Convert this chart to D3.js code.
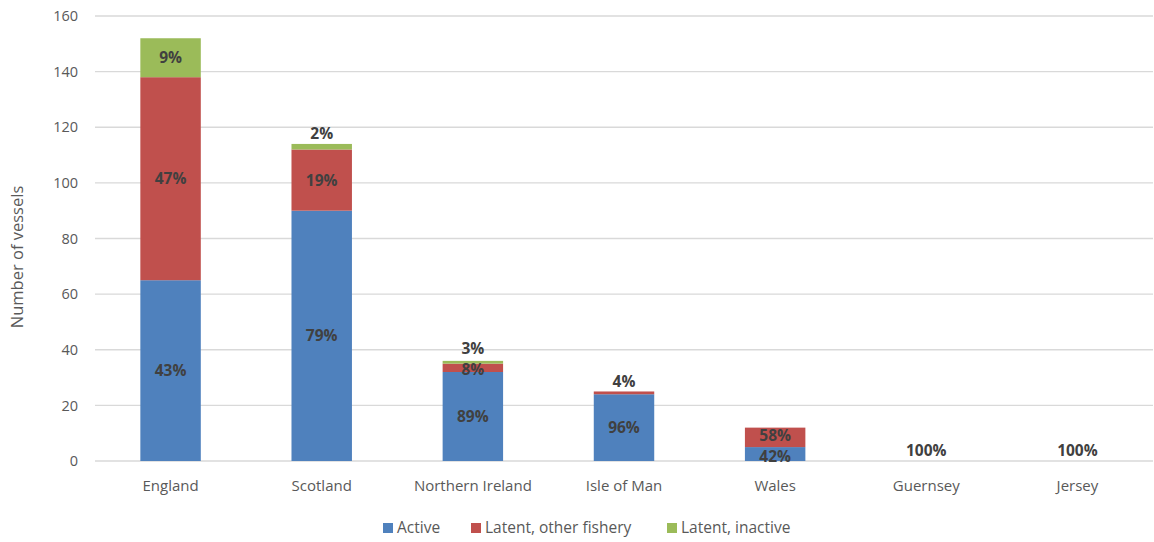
<!DOCTYPE html>
<html>
<head>
<meta charset="utf-8">
<script src="https://cdn.jsdelivr.net/npm/d3@7"></script>
<style>
  html, body { margin: 0; padding: 0; background: #fff; }
  svg { display: block; font-family: "Open Sans", "Liberation Sans", Arial, sans-serif; }
</style>
</head>
<body>
<svg id="chart" width="1154" height="542"></svg>
<script>
// ---- data ----
const categories = ["England", "Scotland", "Northern Ireland", "Isle of Man", "Wales", "Guernsey", "Jersey"];
const seriesNames = ["Active", "Latent, other fishery", "Latent, inactive"];
const activeValues   = [65, 90, 32, 24, 5, 0, 0];
const otherValues    = [73, 22, 3, 1, 7, 0, 0];
const inactiveValues = [14, 2, 1, 0, 0, 0, 0];
const activeLabels   = ["43%", "79%", "89%", "96%", "42%", null, null];
const otherLabels    = ["47%", "19%", "8%", "4%", "58%", "100%", "100%"];
const inactiveLabels = ["9%", "2%", "3%", null, null, null, null];
const yTicks = [0, 20, 40, 60, 80, 100, 120, 140, 160];
const colors = ["#4F81BD", "#C0504D", "#9BBB59"];

// ---- layout ----
const FONT = "'Open Sans', 'Liberation Sans', Arial, sans-serif";
const svg = d3.select("#chart");
const margin = { left: 95, right: 1, top: 16, bottom: 81 };
const W = 1154, H = 542;
const x = d3.scaleBand().domain(categories).range([margin.left, W - margin.right]).padding(0);
const y = d3.scaleLinear().domain([0, 160]).range([H - margin.bottom, margin.top]);
const barW = x.bandwidth() * 0.4;

// gridlines
svg.append("g").selectAll("line").data(yTicks).join("line")
  .attr("x1", margin.left).attr("x2", W - margin.right)
  .attr("y1", d => y(d)).attr("y2", d => y(d))
  .attr("stroke", "#d9d9d9").attr("stroke-width", 1.3);

// y axis labels
const yAxis = d3.axisLeft(y).tickValues(yTicks).tickSize(0).tickPadding(17);
const ya = svg.append("g").attr("transform", `translate(${margin.left},0)`).call(yAxis);
ya.select(".domain").remove();
ya.selectAll("text").attr("fill", "#595959").style("font-size", "14.5px")
  .style("font-family", FONT);

// x axis labels
const xAxis = d3.axisBottom(x).tickSize(0).tickPadding(19);
const xa = svg.append("g").attr("transform", `translate(0,${y(0)})`).call(xAxis);
xa.select(".domain").remove();
xa.selectAll("text").attr("fill", "#595959").style("font-size", "15px")
  .style("font-family", FONT);

// y title
svg.append("text")
  .attr("transform", `translate(23,257) rotate(-90)`)
  .attr("text-anchor", "middle").attr("fill", "#595959")
  .style("font-size", "16.5px").text("Number of vessels");

// stacked data
const table = categories.map((c, i) => ({
  cat: c,
  "Active": activeValues[i],
  "Latent, other fishery": otherValues[i],
  "Latent, inactive": inactiveValues[i]
}));
const labelSets = [activeLabels, otherLabels, inactiveLabels];
const stack = d3.stack().keys(seriesNames)(table);

const gBars = svg.append("g");
stack.forEach((layer, si) => {
  gBars.selectAll(null).data(layer).join("rect")
    .attr("x", d => x(d.data.cat) + (x.bandwidth() - barW) / 2)
    .attr("width", barW)
    .attr("y", d => y(d[1]))
    .attr("height", d => y(d[0]) - y(d[1]))
    .attr("fill", colors[si]);
});

// labels: place centred (or above the bar for slivers), then spread apart
const gLab = svg.append("g");
const MIN_GAP = 21;
categories.forEach((cat, i) => {
  const total = activeValues[i] + otherValues[i] + inactiveValues[i];
  const items = [];
  stack.forEach((layer, si) => {
    const d = layer[i];
    const txt = labelSets[si][i];
    if (!txt) return;
    const h = y(d[0]) - y(d[1]);
    const cy = h < 7 ? y(total) - 10 : (y(d[0]) + y(d[1])) / 2;
    items.push({ txt, cy });
  });
  // items are bottom to top; spread pairs that are too close
  for (let iter = 0; iter < 5; iter++) {
    for (let k = 1; k < items.length; k++) {
      const gap = items[k - 1].cy - items[k].cy;
      if (gap < MIN_GAP) {
        const push = (MIN_GAP - gap) / 2;
        items[k - 1].cy += push;
        items[k].cy -= push;
      }
    }
  }
  items.forEach(it => {
    gLab.append("text")
      .attr("x", x(cat) + x.bandwidth() / 2)
      .attr("y", it.cy)
      .attr("dy", "0.35em")
      .attr("text-anchor", "middle")
      .attr("fill", "#404040")
      .style("font-size", "15.5px").style("font-weight", "bold")
      .text(it.txt);
  });
});

// legend
const legendItems = [
  { name: seriesNames[0], x: 383 },
  { name: seriesNames[1], x: 471 },
  { name: seriesNames[2], x: 667 }
];
const lg = svg.append("g");
legendItems.forEach((it, i) => {
  lg.append("rect").attr("x", it.x).attr("y", 523).attr("width", 10).attr("height", 10).attr("fill", colors[i]);
  lg.append("text").attr("x", it.x + 14).attr("y", 528).attr("dy", "0.35em")
    .attr("fill", "#595959").style("font-size", "15.5px").text(it.name);
});
</script>
</body>
</html>
